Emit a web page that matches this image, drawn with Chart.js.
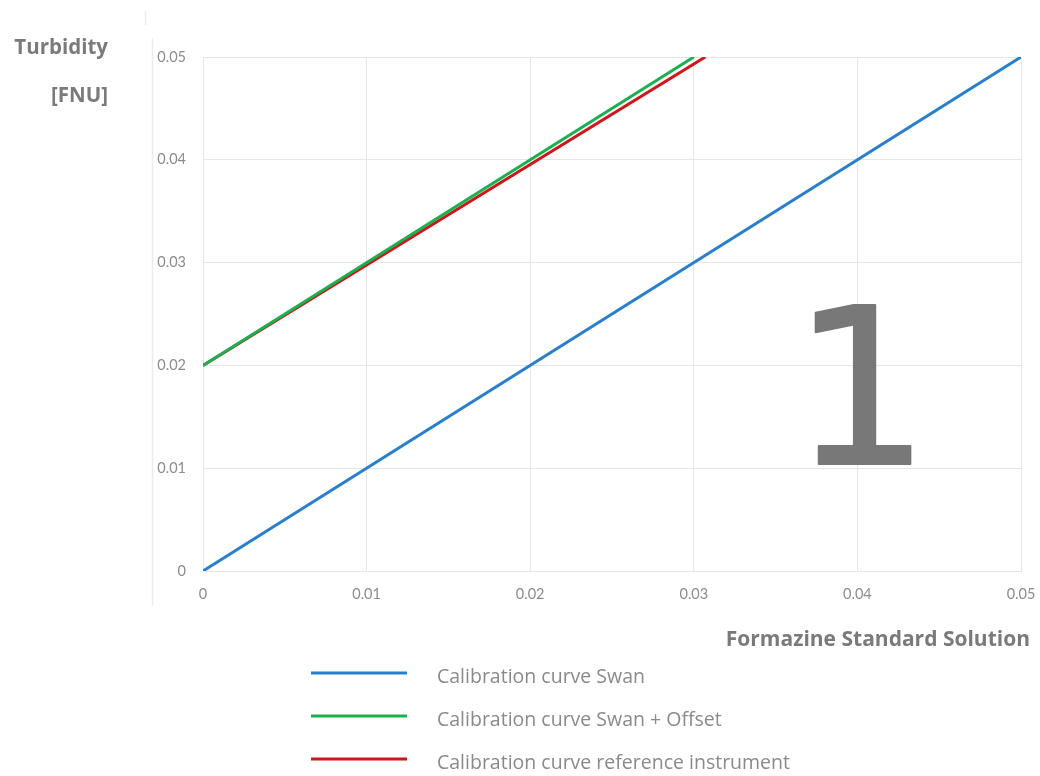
<!DOCTYPE html>
<html>
<head>
<meta charset="utf-8">
<script src="https://cdn.jsdelivr.net/npm/chart.js@4/dist/chart.umd.min.js"></script>
<style>
  html, body { margin: 0; padding: 0; background: #ffffff; }
  #wrap { position: relative; width: 1040px; height: 776px; }
  canvas { display: block; }
</style>
</head>
<body>
<div id="wrap"><canvas id="chart" width="1040" height="776"></canvas></div>
<script>
// Concentration of the formazine standard (x) and turbidity reading (y)
const xSwan = [0, 0.05];
const ySwan = [0, 0.05];
const xOffset = [0, 0.03];
const yOffset = [0.02, 0.05];
const xReference = [0, 0.0307];
const yReference = [0.02, 0.05];

const seriesNames = [
  'Calibration curve Swan',
  'Calibration curve Swan + Offset',
  'Calibration curve reference instrument'
];
const tickLabels = ['0', '0.01', '0.02', '0.03', '0.04', '0.05'];
const yAxisTitle = ['Turbidity', '[FNU]'];
const xAxisTitle = 'Formazine Standard Solution';
const stepLabel = '1';

const toPoints = (xs, ys) => xs.map((x, i) => ({ x: x, y: ys[i] }));
const tickText = (v) => tickLabels[Math.round(v * 100)] ?? '';

const GRID = '#e6e6e6';
const TEXT = '#7a7a7a';

// Titles, big step number and the legend below the plot
const decorations = {
  id: 'decorations',
  beforeDatasetsDraw(chart) {
    const { ctx } = chart;
    ctx.save();
    // large step numeral sits behind the lines
    ctx.fillStyle = '#787878';
    ctx.strokeStyle = '#787878';
    ctx.lineWidth = 2;
    ctx.lineJoin = 'round';
    ctx.font = '218px "DejaVu Sans", sans-serif';
    ctx.textAlign = 'center';
    ctx.textBaseline = 'alphabetic';
    ctx.fillText(stepLabel, 861, 464);
    ctx.strokeText(stepLabel, 861, 464);
    ctx.restore();
  },
  afterDraw(chart) {
    const { ctx } = chart;
    ctx.save();
    // faint frame line on the left
    ctx.strokeStyle = '#ececec';
    ctx.lineWidth = 1.5;
    ctx.beginPath();
    ctx.moveTo(152.5, 38);
    ctx.lineTo(152.5, 606);
    ctx.stroke();
    ctx.beginPath();
    ctx.moveTo(145.5, 11);
    ctx.lineTo(145.5, 25);
    ctx.stroke();

    ctx.fillStyle = TEXT;
    ctx.font = 'bold 20.5px "Open Sans", sans-serif';
    ctx.textAlign = 'right';
    ctx.textBaseline = 'middle';
    ctx.fillText(yAxisTitle[0], 108, 48);
    ctx.fillText(yAxisTitle[1], 108, 96);
    ctx.font = 'bold 21px "Open Sans", sans-serif';
    ctx.fillText(xAxisTitle, 1030, 640);

    // legend
    const ds = chart.data.datasets;
    const rows = [677, 720, 763];
    ds.forEach((d, i) => {
      ctx.strokeStyle = d.borderColor;
      ctx.lineWidth = d.borderWidth;
      ctx.beginPath();
      ctx.moveTo(311, rows[i] - 4);
      ctx.lineTo(407, rows[i] - 4);
      ctx.stroke();
      ctx.fillStyle = '#8a8a8a';
      ctx.font = '19.5px "Open Sans", sans-serif';
      ctx.textAlign = 'left';
      ctx.textBaseline = 'middle';
      ctx.fillText(d.label, 437, rows[i]);
    });
    ctx.restore();
  }
};

new Chart(document.getElementById('chart'), {
  type: 'scatter',
  data: {
    datasets: [
      { label: seriesNames[0], data: toPoints(xSwan, ySwan), borderColor: '#2a7fcc', borderWidth: 3 },
      { label: seriesNames[1], data: toPoints(xOffset, yOffset), borderColor: '#19b150', borderWidth: 3 },
      { label: seriesNames[2], data: toPoints(xReference, yReference), borderColor: '#d0151b', borderWidth: 3 }
    ].map(d => Object.assign(d, { showLine: true, pointRadius: 0, fill: false, tension: 0 }))
  },
  options: {
    responsive: false,
    animation: false,
    layout: { padding: { left: 0, top: 57, right: 19, bottom: 0 } },
    plugins: { legend: { display: false }, tooltip: { enabled: false } },
    scales: {
      x: {
        type: 'linear', min: 0, max: 0.05,
        afterFit(scale) {
          scale.height = 205;
          scale.paddingLeft = 0;
          scale.paddingRight = 0;
        },
        border: { display: true, color: GRID, width: 1 },
        grid: { color: GRID, lineWidth: 1, drawTicks: false },
        ticks: { stepSize: 0.01, padding: 15, color: '#8c8c8c', font: { family: 'Lato', size: 14.5 }, callback: tickText, maxRotation: 0 }
      },
      y: {
        type: 'linear', min: 0, max: 0.05,
        afterFit(scale) {
          scale.width = 203;
          scale.paddingTop = 0;
          scale.paddingBottom = 0;
        },
        border: { display: false },
        grid: { color: GRID, lineWidth: 1, drawTicks: false },
        ticks: { stepSize: 0.01, padding: 17, color: '#8c8c8c', font: { family: 'Lato', size: 14.5 }, callback: tickText }
      }
    }
  },
  plugins: [decorations]
});
</script>
</body>
</html>
